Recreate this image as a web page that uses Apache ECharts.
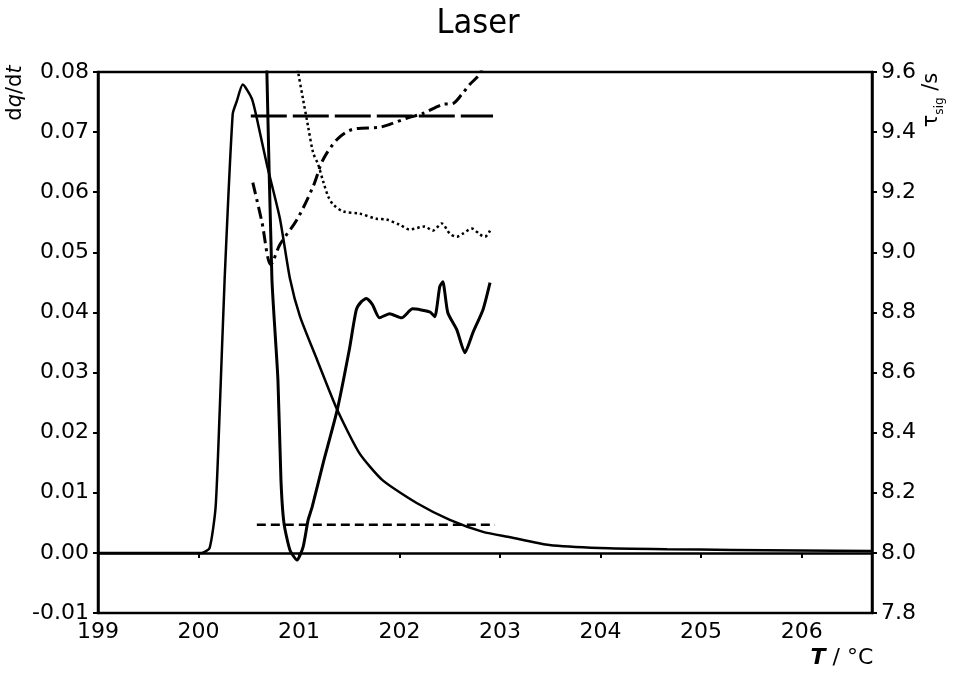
<!DOCTYPE html>
<html>
<head>
<meta charset="utf-8">
<script src="https://cdn.jsdelivr.net/npm/echarts@6/dist/echarts.min.js"></script>
<style>
html,body{margin:0;padding:0;background:#fff;}
#chart{width:956px;height:674px;}
</style>
</head>
<body>
<div id="chart"></div>
<script>
// ---- data ----
// solid curve: dq/dt (left axis)
const peakT = [199.00,199.52,200.03,200.11,200.17,200.21,200.26,200.34,200.38,200.44,200.53,200.58,200.68,200.81,200.91,201.01,201.18,201.38,201.60,201.83,202.17,202.50,202.83,203.10,203.49,203.99,204.66,205.31,206.70];
const peakQ = [0.0000,0.0000,0.0000,0.0008,0.0076,0.0233,0.0456,0.0730,0.0751,0.0779,0.0756,0.0723,0.0646,0.0556,0.0456,0.0393,0.0321,0.0238,0.0166,0.0121,0.0083,0.0055,0.0035,0.0026,0.0013,0.0008,0.0006,0.0005,0.0003];

// solid oscillating curve (right axis, tau_sig / s)
const oscT = [200.67,200.68,200.73,200.79,200.82,200.85,200.91,200.98,201.04,201.09,201.13,201.24,201.38,201.50,201.57,201.62,201.67,201.73,201.80,201.90,202.02,202.13,202.30,202.35,202.40,202.43,202.48,202.57,202.65,202.73,202.83,202.90];
const oscTau = [9.70,9.60,8.913,8.576,8.243,8.099,8.009,7.976,8.019,8.109,8.152,8.299,8.476,8.676,8.809,8.836,8.846,8.826,8.782,8.796,8.782,8.812,8.802,8.786,8.886,8.902,8.799,8.742,8.666,8.733,8.809,8.899];

// dash-dot curve (right axis)
const dashDotT = [200.54,200.63,200.72,200.81,200.98,201.14,201.24,201.38,201.53,201.80,201.93,202.07,202.23,202.43,202.53,202.62,202.70,202.78,202.82];
const dashDotTau = [9.232,9.102,8.959,9.026,9.109,9.219,9.309,9.376,9.409,9.416,9.429,9.446,9.462,9.492,9.495,9.526,9.559,9.586,9.609];

// dotted curve (right axis)
const dotT = [200.98,200.99,201.04,201.09,201.14,201.19,201.24,201.29,201.34,201.44,201.60,201.77,201.87,202.00,202.10,202.25,202.33,202.42,202.50,202.57,202.63,202.72,202.80,202.85,202.90];
const dotTau = [9.63,9.602,9.509,9.419,9.332,9.292,9.236,9.186,9.159,9.136,9.129,9.112,9.109,9.092,9.076,9.086,9.072,9.096,9.062,9.052,9.062,9.079,9.059,9.052,9.072];

// long-dash horizontal line (right axis)
const longDashT = [200.52,202.93];
const longDashTau = [9.454,9.454];

// short-dash horizontal line (left axis)
const shortDashT = [200.58,202.95];
const shortDashQ = [0.0047,0.0047];

// axes
const xMin = 199, xMax = 206.7, xStep = 1;
const qMin = -0.01, qMax = 0.08, qStep = 0.01;
const tauMin = 7.8, tauMax = 9.6, tauStep = 0.2;

function zip(a, b) { return a.map((v, i) => [v, b[i]]); }

const FONT = 'DejaVu Sans';
const chart = echarts.init(document.getElementById('chart'), null, {renderer: 'canvas'});

const axisCommon = {
  axisLine: {show: true, lineStyle: {color: '#000', width: 2.5}},
  axisTick: {show: true, inside: false, length: 5, lineStyle: {color: '#000', width: 2}},
  splitLine: {show: false}
};

chart.setOption({
  backgroundColor: '#fff',
  animation: false,
  title: {
    text: 'Laser', left: 'center', top: 2,
    textStyle: {fontFamily: 'DejaVu Sans Condensed', fontSize: 34, fontWeight: 'normal', color: '#000'}
  },
  grid: {left: 98, right: 84, top: 72, bottom: 61, show: true, borderColor: '#000', borderWidth: 2.5, containLabel: false},
  xAxis: Object.assign({}, axisCommon, {
    type: 'value', min: xMin, max: xMax, interval: xStep,
    axisLabel: {color: '#000', fontFamily: FONT, fontSize: 22, margin: 8, showMaxLabel: false}
  }),
  yAxis: [
    Object.assign({}, axisCommon, {
      type: 'value', min: qMin, max: qMax, interval: qStep, position: 'left',
      axisLabel: {color: '#000', fontFamily: FONT, fontSize: 22, margin: 9,
        formatter: v => v.toFixed(2)}
    }),
    Object.assign({}, axisCommon, {
      type: 'value', min: tauMin, max: tauMax, interval: tauStep, position: 'right',
      axisLabel: {color: '#000', fontFamily: FONT, fontSize: 22, margin: 9,
        formatter: v => v.toFixed(1)}
    })
  ],
  series: [
    {type: 'line', yAxisIndex: 0, data: zip(peakT, peakQ), showSymbol: false, smooth: 0.2,
      lineStyle: {color: '#000', width: 2.5}, clip: true},
    {type: 'line', yAxisIndex: 1, data: zip(oscT, oscTau), showSymbol: false, smooth: 0.2,
      lineStyle: {color: '#000', width: 3}, clip: true},
    {type: 'line', yAxisIndex: 1, data: zip(dashDotT, dashDotTau), showSymbol: false, smooth: 0.3,
      lineStyle: {color: '#000', width: 3, type: [12, 5, 3, 5]}, clip: true},
    {type: 'line', yAxisIndex: 1, data: zip(dotT, dotTau), showSymbol: false, smooth: 0.3,
      lineStyle: {color: '#000', width: 2.5, type: [2.5, 3]}, clip: true},
    {type: 'line', yAxisIndex: 1, data: zip(longDashT, longDashTau), showSymbol: false,
      lineStyle: {color: '#000', width: 3, type: [36, 6]}, clip: true},
    {type: 'line', yAxisIndex: 0, data: zip(shortDashT, shortDashQ), showSymbol: false,
      lineStyle: {color: '#000', width: 2.5, type: [9, 5]}, clip: true}
  ],
  graphic: [
    {type: 'text', x: 16, y: 93, rotation: Math.PI / 2,
      style: {text: '{n|d}{i|q}{n|/d}{i|t}', align: 'center', verticalAlign: 'middle', fill: '#000',
        rich: {n: {fontFamily: FONT, fontSize: 21, fill: '#000'}, i: {fontFamily: FONT, fontStyle: 'italic', fontSize: 21, fill: '#000'}}}},
    {type: 'text', x: 932, y: 100, rotation: Math.PI / 2,
      style: {text: '{n|τ}{s|sig}{n| /s}', align: 'center', verticalAlign: 'middle', fill: '#000',
        rich: {n: {fontFamily: FONT, fontSize: 21, lineHeight: 28, verticalAlign: 'middle', fill: '#000'},
               s: {fontFamily: FONT, fontSize: 12, lineHeight: 12, verticalAlign: 'bottom', fill: '#000'}}}},
    {type: 'text', x: 842, y: 658,
      style: {text: '{i|T}{n| / °C}', align: 'center', verticalAlign: 'middle', fill: '#000',
        rich: {n: {fontFamily: FONT, fontSize: 22, fill: '#000'}, i: {fontFamily: FONT, fontStyle: 'italic', fontWeight: 'bold', fontSize: 22, fill: '#000'}}}}
  ]
});
</script>
</body>
</html>
